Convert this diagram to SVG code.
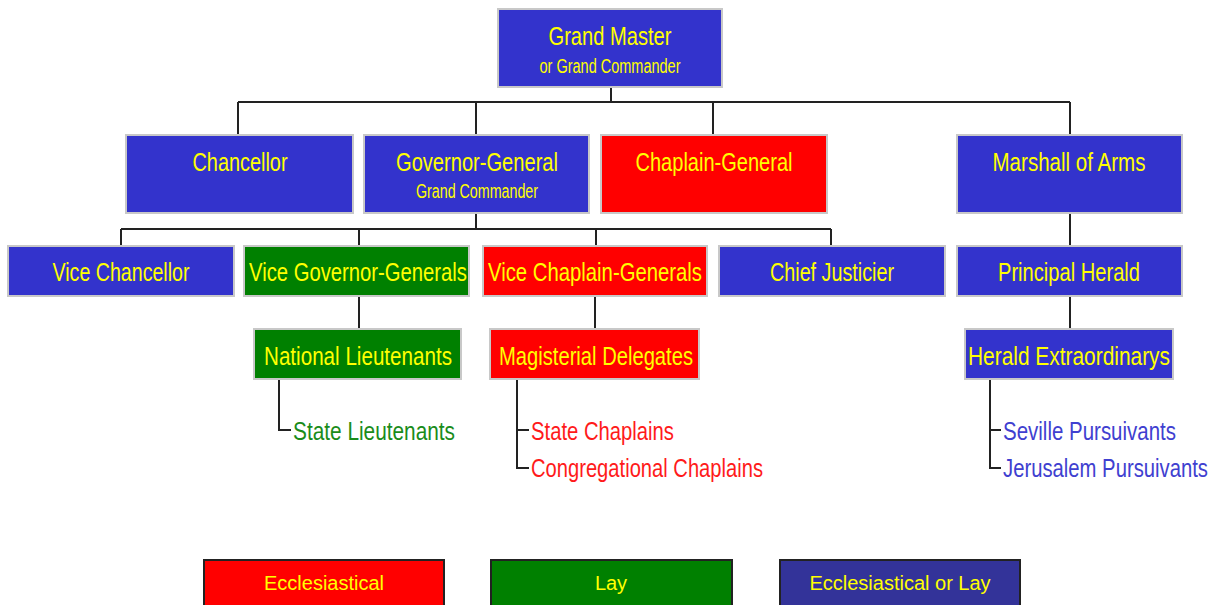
<svg xmlns="http://www.w3.org/2000/svg" width="1215" height="605" viewBox="0 0 1215 605">
<style>
.node rect{stroke:#c8c8c8;stroke-width:2}
.blue{fill:#3333cc}.green{fill:#008000}.red{fill:#ff0000}
.t{font-family:"Liberation Sans",Arial,sans-serif;font-size:26px;fill:#ffff00;text-anchor:middle}
.s{font-family:"Liberation Sans",Arial,sans-serif;font-size:20px;fill:#ffff00;text-anchor:middle}
.leaf{font-family:"Liberation Sans",Arial,sans-serif;font-size:26px}
.conn path{fill:none;stroke:#222;stroke-width:2}
.legend rect{stroke:#222;stroke-width:2}
.lt{font-family:"Liberation Sans",Arial,sans-serif;font-size:20px;fill:#ffff00;text-anchor:middle}
</style>
<rect width="1215" height="605" fill="#ffffff"/>
<g class="conn">
<path d="M611 87V102M238 102H1070M238 102V135M476 102V135M713 102V135M1070 102V135"/>
<path d="M476 213V229M121 229H831M121 229V246M359 229V246M596 229V246M831 229V246"/>
<path d="M1070 213V246"/>
<path d="M359 296V329M595 296V329M1070 296V329"/>
<path d="M279 380V430H291"/>
<path d="M517 380V468H529M517 430H529"/>
<path d="M990 380V468H1001M990 430H1001"/>
</g>
<g id="grand-master" class="node"><rect class="blue" x="498" y="9" width="224" height="78"/><text class="t" x="610" y="45" textLength="123" lengthAdjust="spacingAndGlyphs">Grand Master</text><text class="s" x="610" y="73" textLength="141" lengthAdjust="spacingAndGlyphs">or Grand Commander</text></g>
<g id="chancellor" class="node"><rect class="blue" x="126" y="135" width="227" height="78"/><text class="t" x="240" y="171" textLength="95" lengthAdjust="spacingAndGlyphs">Chancellor</text></g>
<g id="governor-general" class="node"><rect class="blue" x="364" y="135" width="225" height="78"/><text class="t" x="477" y="171" textLength="162" lengthAdjust="spacingAndGlyphs">Governor-General</text><text class="s" x="477" y="198" textLength="122" lengthAdjust="spacingAndGlyphs">Grand Commander</text></g>
<g id="chaplain-general" class="node"><rect class="red" x="601" y="135" width="226" height="78"/><text class="t" x="714" y="171" textLength="157" lengthAdjust="spacingAndGlyphs">Chaplain-General</text></g>
<g id="marshall-of-arms" class="node"><rect class="blue" x="957" y="135" width="225" height="78"/><text class="t" x="1069" y="171" textLength="153" lengthAdjust="spacingAndGlyphs">Marshall of Arms</text></g>
<g id="vice-chancellor" class="node"><rect class="blue" x="8" y="246" width="226" height="50"/><text class="t" x="121" y="281" textLength="137" lengthAdjust="spacingAndGlyphs">Vice Chancellor</text></g>
<g id="vice-governor-generals" class="node"><rect class="green" x="244" y="246" width="225" height="50"/><text class="t" x="358" y="281" textLength="218" lengthAdjust="spacingAndGlyphs">Vice Governor-Generals</text></g>
<g id="vice-chaplain-generals" class="node"><rect class="red" x="483" y="246" width="224" height="50"/><text class="t" x="595" y="281" textLength="214" lengthAdjust="spacingAndGlyphs">Vice Chaplain-Generals</text></g>
<g id="chief-justicier" class="node"><rect class="blue" x="719" y="246" width="226" height="50"/><text class="t" x="832" y="281" textLength="124" lengthAdjust="spacingAndGlyphs">Chief Justicier</text></g>
<g id="principal-herald" class="node"><rect class="blue" x="957" y="246" width="225" height="50"/><text class="t" x="1069" y="281" textLength="142" lengthAdjust="spacingAndGlyphs">Principal Herald</text></g>
<g id="national-lieutenants" class="node"><rect class="green" x="254" y="329" width="207" height="50"/><text class="t" x="358" y="365" textLength="188" lengthAdjust="spacingAndGlyphs">National Lieutenants</text></g>
<g id="magisterial-delegates" class="node"><rect class="red" x="490" y="329" width="209" height="50"/><text class="t" x="596" y="365" textLength="194" lengthAdjust="spacingAndGlyphs">Magisterial Delegates</text></g>
<g id="herald-extraordinarys" class="node"><rect class="blue" x="965" y="329" width="208" height="50"/><text class="t" x="1069" y="365" textLength="202" lengthAdjust="spacingAndGlyphs">Herald Extraordinarys</text></g>
<g id="state-lieutenants"><text class="leaf" x="293" y="440" fill="#1a8c1a" textLength="162" lengthAdjust="spacingAndGlyphs">State Lieutenants</text></g>
<g id="state-chaplains"><text class="leaf" x="531" y="440" fill="#ff1a1a" textLength="143" lengthAdjust="spacingAndGlyphs">State Chaplains</text></g>
<g id="congregational-chaplains"><text class="leaf" x="531" y="477" fill="#ff1a1a" textLength="232" lengthAdjust="spacingAndGlyphs">Congregational Chaplains</text></g>
<g id="seville-pursuivants"><text class="leaf" x="1003" y="440" fill="#4040d0" textLength="173" lengthAdjust="spacingAndGlyphs">Seville Pursuivants</text></g>
<g id="jerusalem-pursuivants"><text class="leaf" x="1003" y="477" fill="#4040d0" textLength="205" lengthAdjust="spacingAndGlyphs">Jerusalem Pursuivants</text></g>
<g id="legend-ecclesiastical" class="legend"><rect x="204" y="560" width="240" height="50" fill="#ff0000"/><text class="lt" x="324" y="590">Ecclesiastical</text></g>
<g id="legend-lay" class="legend"><rect x="491" y="560" width="241" height="50" fill="#008000"/><text class="lt" x="611" y="590">Lay</text></g>
<g id="legend-either" class="legend"><rect x="780" y="560" width="240" height="50" fill="#333399"/><text class="lt" x="900" y="590">Ecclesiastical or Lay</text></g>
</svg>
